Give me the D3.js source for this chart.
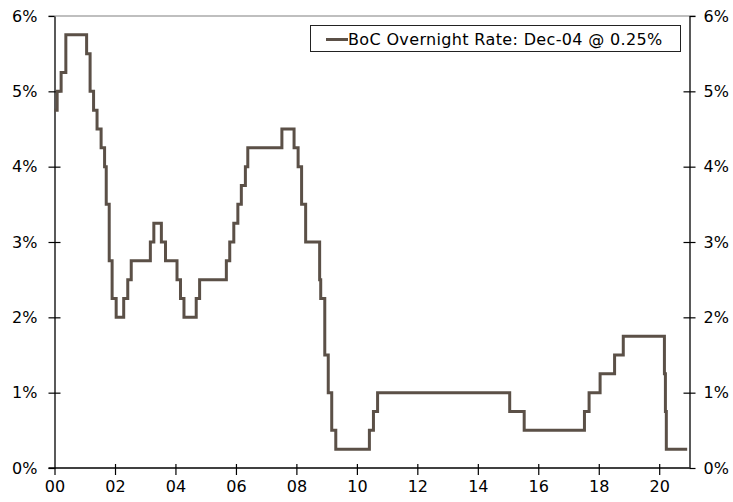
<!DOCTYPE html>
<html>
<head>
<meta charset="utf-8">
<script src="https://cdn.jsdelivr.net/npm/d3@7/dist/d3.min.js"></script>
<style>
  html, body { margin: 0; padding: 0; background: #fff; }
  svg { display: block; }
  text { font-family: "DejaVu Sans", Verdana, sans-serif; fill: #000; }
</style>
</head>
<body>
<svg id="chart" width="733" height="502"></svg>
<script>
// Bank of Canada target for the overnight rate: dates of each change and the new rate (%)
const changeDates = [
  "2000-01-01", "2000-02-02", "2000-03-21", "2000-05-17",
  "2001-01-23", "2001-03-06", "2001-04-17", "2001-05-29", "2001-07-17", "2001-08-28",
  "2001-09-17", "2001-10-23", "2001-11-27",
  "2002-01-15", "2002-04-16", "2002-06-04", "2002-07-16",
  "2003-03-04", "2003-04-15", "2003-07-15", "2003-09-03",
  "2004-01-20", "2004-03-02", "2004-04-13", "2004-09-08", "2004-10-19",
  "2005-09-07", "2005-10-18", "2005-12-06",
  "2006-01-24", "2006-03-07", "2006-04-25", "2006-05-24",
  "2007-07-10", "2007-12-04",
  "2008-01-22", "2008-03-04", "2008-04-22", "2008-10-08", "2008-10-21", "2008-12-09",
  "2009-01-20", "2009-03-03", "2009-04-21",
  "2010-06-01", "2010-07-20", "2010-09-08",
  "2015-01-21", "2015-07-15",
  "2017-07-12", "2017-09-06",
  "2018-01-17", "2018-07-11", "2018-10-24",
  "2020-03-04", "2020-03-16", "2020-03-27",
  "2020-12-04"
];
const rates = [
  4.75, 5.00, 5.25, 5.75,
  5.50, 5.00, 4.75, 4.50, 4.25, 4.00,
  3.50, 2.75, 2.25,
  2.00, 2.25, 2.50, 2.75,
  3.00, 3.25, 3.00, 2.75,
  2.50, 2.25, 2.00, 2.25, 2.50,
  2.75, 3.00, 3.25,
  3.50, 3.75, 4.00, 4.25,
  4.50, 4.25,
  4.00, 3.50, 3.00, 2.50, 2.25, 1.50,
  1.00, 0.50, 0.25,
  0.50, 0.75, 1.00,
  0.75, 0.50,
  0.75, 1.00,
  1.25, 1.50, 1.75,
  1.25, 0.75, 0.25,
  0.25
];
const yTicks = [0, 1, 2, 3, 4, 5, 6];
const seriesName = "BoC Overnight Rate: Dec-04 @ 0.25%";

const parse = d3.timeParse("%Y-%m-%d");
const data = changeDates.map((d, i) => ({ date: parse(d), value: rates[i] }));

const svg = d3.select("#chart");
const plotLeft = 54.5, plotRight = 689.5, plotTop = 16, plotBottom = 468;

const x = d3.scaleTime()
  .domain([new Date(2000, 0, 1), new Date(2021, 0, 1)])
  .range([plotLeft, plotRight]);
const y = d3.scaleLinear().domain([0, 6]).range([plotBottom, plotTop]);

// top border line at 6%
svg.append("line")
  .attr("x1", plotLeft - 6).attr("x2", plotRight + 6)
  .attr("y1", y(6)).attr("y2", y(6))
  .attr("stroke", "#808080").attr("stroke-width", 1.2);

// left axis
const yLeft = d3.axisLeft(y).tickValues(yTicks).tickFormat(d => d + "%")
  .tickSizeInner(6).tickSizeOuter(0).tickPadding(11);
const gL = svg.append("g").attr("transform", `translate(${plotLeft},0)`).call(yLeft);
gL.select(".domain").attr("stroke", "#000").attr("stroke-width", 1.3);
gL.selectAll(".tick line").attr("x2", d => (d === 0 || d === 6) ? 0 : 6).attr("x1", -6)
  .attr("stroke", "#000").attr("stroke-width", 1.2);
gL.selectAll(".tick text").attr("x", -17).style("font-size", "16px");

// right axis
const yRight = d3.axisRight(y).tickValues(yTicks).tickFormat(d => d + "%")
  .tickSizeInner(6).tickSizeOuter(0).tickPadding(11);
const gR = svg.append("g").attr("transform", `translate(${plotRight},0)`).call(yRight);
gR.select(".domain").attr("stroke", "#000").attr("stroke-width", 1.3);
gR.selectAll(".tick line").attr("x1", d => (d === 0 || d === 6) ? 0 : -6).attr("x2", 6)
  .attr("stroke", "#000").attr("stroke-width", 1.2);
gR.selectAll(".tick text").attr("x", 14).style("font-size", "16px");

// bottom axis
const xAxis = d3.axisBottom(x)
  .tickValues(d3.range(2000, 2021, 2).map(yr => new Date(yr, 0, 1)))
  .tickFormat(d3.timeFormat("%y"))
  .tickSizeInner(7).tickSizeOuter(0).tickPadding(6);
const gX = svg.append("g").attr("transform", `translate(0,${plotBottom})`).call(xAxis);
gX.select(".domain").attr("d", `M${plotLeft - 6},0H${plotRight}`).attr("stroke", "#000").attr("stroke-width", 1.3);
gX.selectAll(".tick line").attr("y1", d => d.getFullYear() === 2000 ? 0 : -4)
  .attr("stroke", "#000").attr("stroke-width", 1.2);
gX.selectAll(".tick text").style("font-size", "16px");

// rate line
const line = d3.line()
  .x(d => x(d.date))
  .y(d => y(d.value))
  .curve(d3.curveStepAfter);
svg.append("path")
  .datum(data)
  .attr("fill", "none")
  .attr("stroke", "#5b5047")
  .attr("stroke-width", 3)
  .attr("stroke-linejoin", "miter")
  .attr("d", line);

// legend
const lg = svg.append("g");
lg.append("rect")
  .attr("x", 310.5).attr("y", 25.5).attr("width", 370).attr("height", 26)
  .attr("fill", "#fff").attr("stroke", "#222").attr("stroke-width", 1);
lg.append("line")
  .attr("x1", 326).attr("x2", 348).attr("y1", 39.5).attr("y2", 39.5)
  .attr("stroke", "#5b5047").attr("stroke-width", 3);
lg.append("text")
  .attr("x", 348).attr("y", 44.5)
  .style("font-size", "16px")
  .style("letter-spacing", "0.35px")
  .text(seriesName);
</script>
</body>
</html>
